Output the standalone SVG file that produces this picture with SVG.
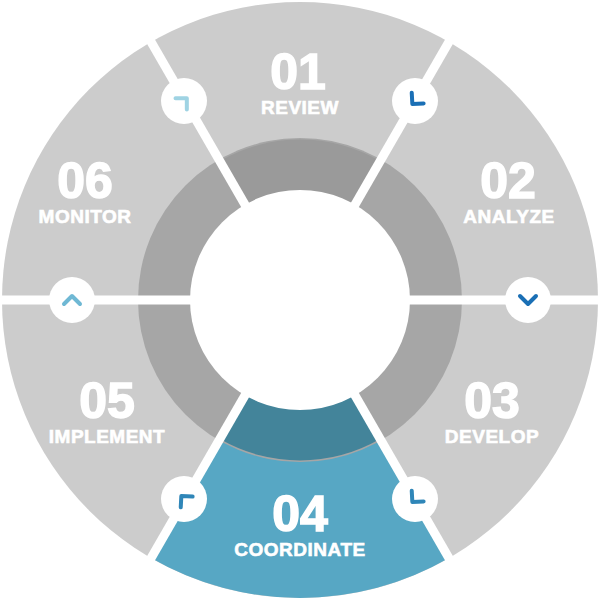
<svg xmlns="http://www.w3.org/2000/svg" width="600" height="600" viewBox="0 0 600 600">
<style>
.num{font-family:"Liberation Sans","Open Sans",sans-serif;font-weight:900;font-size:50px;fill:#fff;text-anchor:middle;stroke:#fff;stroke-width:1.5}
.lbl{font-family:"Liberation Sans","Open Sans",sans-serif;font-weight:700;font-size:19px;fill:#fff;text-anchor:middle;stroke:#fff;stroke-width:0.6;letter-spacing:0.5px}
.ic{fill:#fff}
.ch{fill:none;stroke-width:4;stroke-linecap:round;stroke-linejoin:round}
</style>
<defs><path id="chev" d="M-8,-4 L0,4 L8,-4"/></defs>
<g id="wheel">
<circle cx="300" cy="300" r="298" fill="#cccccc"/>
<path d="M151,558 A298,298 0 0 0 449,558 L300,300 Z" fill="#57a7c4"/>
<circle cx="300" cy="300" r="162" fill="#a6a6a6"/>
<path d="M220,161 A160,160 0 0 1 380,161 L300,300 Z" fill="#9a9a9a"/>
<path d="M220,439 A160,160 0 0 0 380,439 L300,300 Z" fill="#43849a"/>
</g>
<g id="connectors" stroke="#fff" stroke-width="9">
<line x1="0" y1="300" x2="600" y2="300"/>
<line x1="150" y1="40" x2="450" y2="560"/>
<line x1="450" y1="40" x2="150" y2="560"/>
</g>
<circle cx="300" cy="300" r="110" fill="#fff"/>
<g id="n1"><text class="num" x="298" y="89">01</text><text class="lbl" x="300" y="114">REVIEW</text></g>
<g id="n2"><text class="num" x="508" y="198">02</text><text class="lbl" x="509" y="223">ANALYZE</text></g>
<g id="n3"><text class="num" x="492" y="418">03</text><text class="lbl" x="492" y="443">DEVELOP</text></g>
<g id="n4"><text class="num" x="300" y="531">04</text><text class="lbl" x="300" y="556">COORDINATE</text></g>
<g id="n5"><text class="num" x="107" y="418">05</text><text class="lbl" x="107" y="443">IMPLEMENT</text></g>
<g id="n6"><text class="num" x="85" y="198">06</text><text class="lbl" x="85" y="223">MONITOR</text></g>
<g id="icons">
<g transform="translate(184,101)"><circle class="ic" r="23"/><use href="#chev" class="ch" stroke="#9fd3e3" transform="rotate(-135)"/></g>
<g transform="translate(415,101)"><circle class="ic" r="23"/><use href="#chev" class="ch" stroke="#1a6fb5" transform="rotate(42)"/></g>
<g transform="translate(528,300)"><circle class="ic" r="23"/><use href="#chev" class="ch" stroke="#1a6fb5"/></g>
<g transform="translate(415,499)"><circle class="ic" r="23"/><use href="#chev" class="ch" stroke="#2f86b8" transform="rotate(42)"/></g>
<g transform="translate(184,499)"><circle class="ic" r="23"/><use href="#chev" class="ch" stroke="#2f86b8" transform="rotate(138)"/></g>
<g transform="translate(72,300)"><circle class="ic" r="23"/><use href="#chev" class="ch" stroke="#6fb8d4" transform="rotate(180)"/></g>
</g>
</svg>
